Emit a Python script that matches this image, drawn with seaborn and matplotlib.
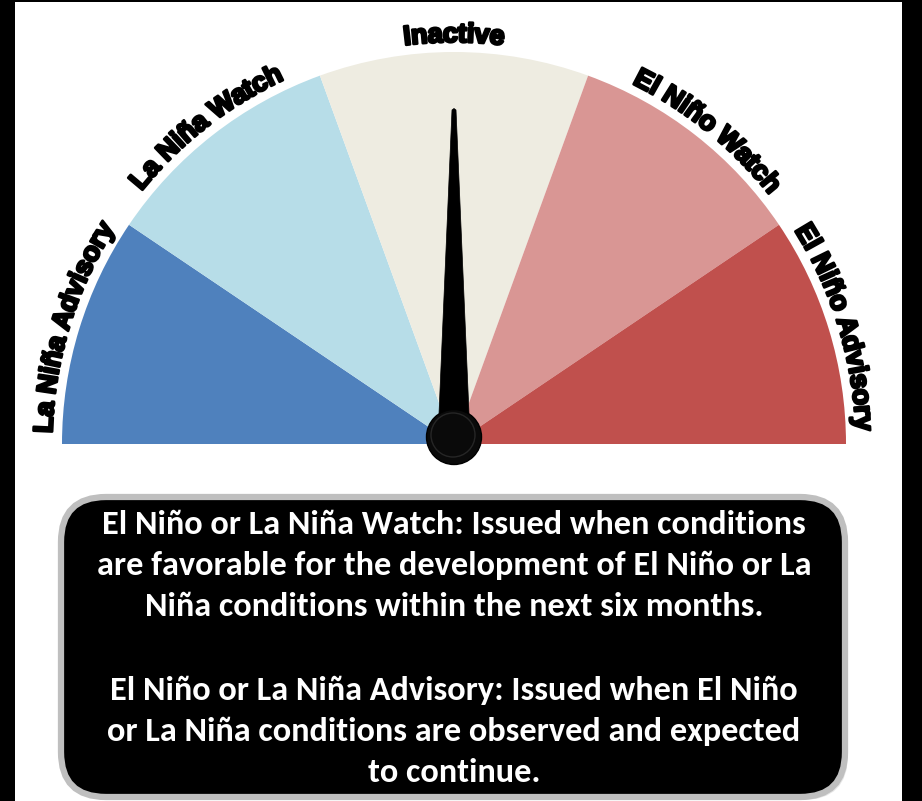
import numpy as np
import matplotlib
matplotlib.use("Agg")
import matplotlib.pyplot as plt
import matplotlib.patheffects as pe
import seaborn as sns
from matplotlib.patches import Wedge, Circle, Polygon, FancyBboxPatch, Rectangle
from matplotlib.font_manager import FontProperties, fontManager
from matplotlib.textpath import TextToPath

# ---------------- data ----------------
categories = ["La Niña Advisory", "La Niña Watch", "Inactive", "El Niño Watch", "El Niño Advisory"]
spans_deg = [34, 36, 40, 36, 34]          # angular width of each segment (left to right)
label_angles = [163, 128, 90, 51, 17]      # polar angle of each curved label
colors = ["#4f81bd", "#b7dde8", "#eeece1", "#d99694", "#c0504d"]
needle_angle = 90                          # current status: Inactive
box_lines = [
    "El Niño or La Niña Watch: Issued when conditions",
    "are favorable for the development of El Niño or La",
    "Niña conditions within the next six months.",
    "",
    "El Niño or La Niña Advisory: Issued when El Niño",
    "or La Niña conditions are observed and expected",
    "to continue.",
]

sns.set_theme(style="white")
plt.rcParams["font.family"] = ["Carlito", "DejaVu Sans"]

W, H = 922, 801
fig = plt.figure(figsize=(W / 100, H / 100), dpi=100, facecolor="black")
ax = fig.add_axes([0, 0, 1, 1])
ax.set_xlim(0, W)
ax.set_ylim(0, H)
ax.set_aspect("equal")
ax.axis("off")

# white canvas inside black frame
ax.add_patch(Rectangle((15, 0), 887, H - 2, facecolor="white", edgecolor="none", zorder=0))

cx, cy, R = 454, H - 444, 392

# gauge segments (left to right)
theta = 180.0
for cat, span, col in zip(categories, spans_deg, colors):
    ax.add_patch(Wedge((cx, cy), R, theta - span, theta, facecolor=col, edgecolor="none", zorder=1))
    theta -= span

# label font: Liberation Sans Narrow Bold by file if present
lab_size = 23
narrow = [f for f in fontManager.ttflist if f.name == "Liberation Sans Narrow" and f.weight in (700, "bold")]
if narrow:
    fp = FontProperties(fname=narrow[0].fname, size=lab_size)
else:
    fp = FontProperties(family=["Liberation Sans", "DejaVu Sans"], weight="bold", size=lab_size * 0.85)

t2p = TextToPath()
def width_px(s):
    if not s:
        return 0.0
    w, h, d = t2p.get_text_width_height_descent(s, fp, ismath=False)
    return w * 100 / 72.0

stroke = [pe.withStroke(linewidth=1.9, foreground="black")]
R_lab = 409
for lab, ang in zip(categories, label_angles):
    total = width_px(lab)
    for i, ch in enumerate(lab):
        if ch == " ":
            continue
        s0 = width_px(lab[:i])
        s1 = width_px(lab[:i + 1])
        off = (s0 + s1) / 2 - total / 2
        th = np.deg2rad(ang) - off / R_lab
        x = cx + R_lab * np.cos(th)
        y = cy + R_lab * np.sin(th)
        ax.text(x, y, ch, fontproperties=fp, color="black", rotation=np.rad2deg(th) - 90,
                rotation_mode="anchor", ha="center", va="center", zorder=5,
                path_effects=stroke)

# needle
th = np.deg2rad(needle_angle)
L = 327
ux, uy = np.cos(th), np.sin(th)
px, py = -uy, ux
base_hw, tip_hw = 16, 2
kx, ky = cx, cy + 7
pts = [
    (kx + px * base_hw, ky + py * base_hw),
    (kx + ux * L + px * tip_hw, ky + uy * L + py * tip_hw),
    (kx + ux * (L + 1.5), ky + uy * (L + 1.5)),
    (kx + ux * L - px * tip_hw, ky + uy * L - py * tip_hw),
    (kx - px * base_hw, ky - py * base_hw),
]
ax.add_patch(Polygon(pts, closed=True, facecolor="black", edgecolor="black", lw=0.5, zorder=6))
ax.add_patch(Circle((kx, ky), 27.5, facecolor="#0a0a0a", edgecolor="#000000", lw=1, zorder=7))
ax.add_patch(Circle((kx - 1, ky + 2), 22, facecolor="none", edgecolor="#262626", lw=1.0, zorder=8))

# info box
bx0, bx1 = 61, 845
by0, by1 = H - 797, H - 497
rad = 45
ax.add_patch(FancyBboxPatch((bx0 + 3 + rad, by0 - 3 + rad), (bx1 - bx0) - 2 * rad, (by1 - by0) - 2 * rad,
                            boxstyle=f"round,pad={rad}", facecolor="#e6e6e6", edgecolor="none", zorder=2))
ax.add_patch(FancyBboxPatch((bx0 + rad, by0 + rad), (bx1 - bx0) - 2 * rad, (by1 - by0) - 2 * rad,
                            boxstyle=f"round,pad={rad}", facecolor="black", edgecolor="#bfbfbf", lw=4.5, zorder=3))

fpb = FontProperties(family=["Carlito", "DejaVu Sans"], weight="bold", size=24.7)
line_y0 = H - 524
dy = 41.5
for i, line in enumerate(box_lines):
    if line:
        ax.text(cx, line_y0 - i * dy, line, fontproperties=fpb, color="white",
                ha="center", va="center", zorder=4)

fig.savefig("out.png", dpi=100, facecolor="black")
